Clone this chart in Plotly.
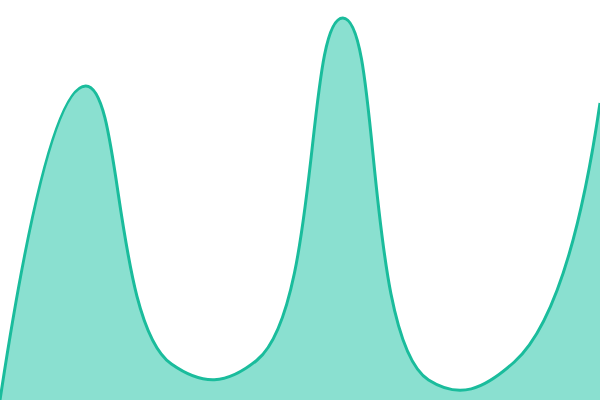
import plotly.graph_objects as go

# points (no axes shown)
categories = ['A', 'B', 'C', 'D', 'E', 'F', 'G', 'H']
values = [0, 314, 36, 40, 382, 20, 38, 297]

fig = go.Figure(
    go.Scatter(
        x=categories,
        y=values,
        mode='lines',
        line=dict(color='#1abc9c', width=3, shape='spline', smoothing=1.3),
        fill='tozeroy',
        fillcolor='rgb(138,224,208)',
        hoverinfo='skip',
    )
)

fig.update_layout(
    width=600, height=400,
    margin=dict(l=0, r=0, t=0, b=0),
    paper_bgcolor='white',
    plot_bgcolor='white',
    showlegend=False,
)
fig.update_xaxes(visible=False, range=[0, 7])
fig.update_yaxes(visible=False, range=[0, 400])

# page body has a default 8px margin, drop it so the chart fills the window
fig.write_html("out.html", config={'displayModeBar': False},
               post_script="document.body.style.margin='0';document.body.style.overflow='hidden';")
